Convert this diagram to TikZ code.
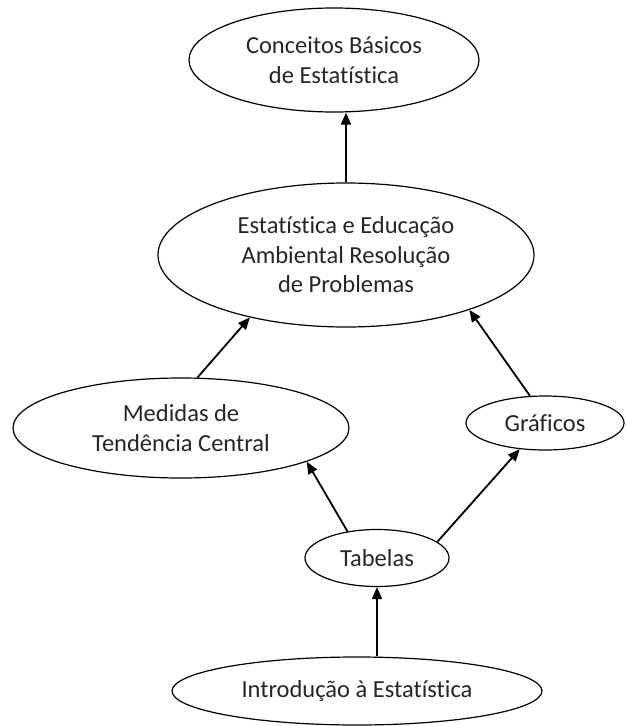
\documentclass[tikz,border=0pt]{standalone}
\usepackage{fontspec}
\setmainfont{Carlito}[Ligatures={NoCommon}]
\usetikzlibrary{arrows.meta,shapes.geometric}
\begin{document}
\begin{tikzpicture}[x=1pt,y=-1pt,
  bubble/.style={draw=black, line width=1.2pt, ellipse, inner sep=0pt, align=center,
    text=black!85, font=\fontsize{24.5}{29.5}\selectfont},
  link/.style={line width=1.8pt, -{Triangle[length=12pt,width=10pt]}}]
\useasboundingbox (0,0) rectangle (626,726);
\node[bubble, minimum width=290pt, minimum height=104pt] (e1) at (334,60) {Conceitos Básicos\\de Estatística};
\node[bubble, minimum width=376pt, minimum height=144pt] (e2) at (346,255) {Estatística e Educação\\Ambiental Resolução\\de Problemas};
\node[bubble, minimum width=336pt, minimum height=100pt] (med) at (181,428) {Medidas de\\Tendência Central};
\node[bubble, minimum width=158pt, minimum height=54pt] (gra) at (545,423) {Gráficos};
\node[bubble, minimum width=144pt, minimum height=57pt] (tab) at (377,558) {Tabelas};
\node[bubble, minimum width=370pt, minimum height=68pt] (intro) at (357,691) {Introdução à Estatística};
\draw[link] (e2.north) -- (e2.north |- e1.south);
\draw[link] (med.72) -- (e2.-147);
\draw[link] (gra.119) -- (e2.-24);
\draw[link] (tab.138) -- (med.-15);
\draw[link] (tab.15) -- (gra.-134);
\draw[link] (tab.south |- intro.north) -- (tab.south);
\end{tikzpicture}
\end{document}
